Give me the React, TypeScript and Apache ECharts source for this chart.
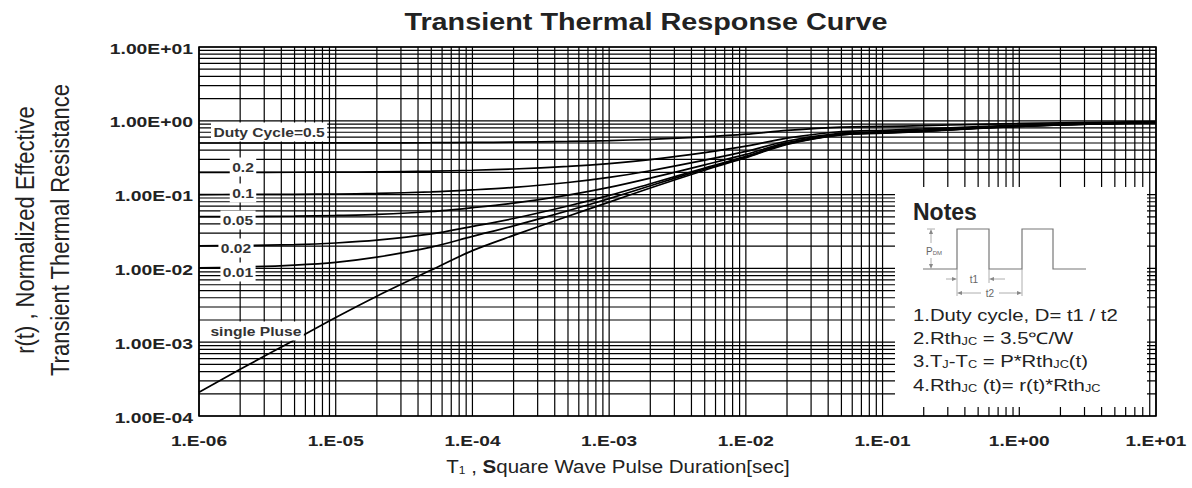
import React, { useEffect, useRef } from 'react';
import * as echarts from 'echarts';

// ---- data ----
const pulseDuration = [1e-6, 2e-6, 5e-6, 1e-5, 2e-5, 5e-5, 1e-4, 2e-4, 5e-4, 1e-3, 2e-3, 5e-3, 1e-2, 2e-2, 5e-2, 0.1, 0.2, 0.5, 1, 2, 5, 10];
const duty05 = [0.5001, 0.5002, 0.5005, 0.5011, 0.5021, 0.5048, 0.5087, 0.514, 0.5255, 0.5395, 0.5615, 0.607, 0.658, 0.74, 0.8225, 0.84, 0.86, 0.895, 0.92, 0.94, 0.96, 0.9725];
const duty02 = [0.2002, 0.2003, 0.2009, 0.2017, 0.2034, 0.2076, 0.2139, 0.2224, 0.2408, 0.2632, 0.2984, 0.3712, 0.4528, 0.584, 0.716, 0.744, 0.776, 0.832, 0.872, 0.904, 0.936, 0.956];
const duty01 = [0.1002, 0.1004, 0.101, 0.1019, 0.1038, 0.1086, 0.1157, 0.1252, 0.1459, 0.1711, 0.2107, 0.2926, 0.3844, 0.532, 0.6805, 0.712, 0.748, 0.811, 0.856, 0.892, 0.928, 0.9505];
const duty005 = [0.0502, 0.0504, 0.051, 0.0521, 0.054, 0.059, 0.0665, 0.0766, 0.0985, 0.125, 0.1669, 0.2533, 0.3502, 0.506, 0.6628, 0.696, 0.734, 0.8005, 0.848, 0.886, 0.924, 0.948];
const duty002 = [0.0202, 0.0204, 0.021, 0.0221, 0.0241, 0.0293, 0.0371, 0.0474, 0.07, 0.0974, 0.1405, 0.2297, 0.3297, 0.4904, 0.6521, 0.6864, 0.7256, 0.7942, 0.8432, 0.8824, 0.9216, 0.9461];
const duty001 = [0.0102, 0.0104, 0.0111, 0.0121, 0.0142, 0.0194, 0.0272, 0.0377, 0.0605, 0.0882, 0.1318, 0.2219, 0.3228, 0.4852, 0.6486, 0.6832, 0.7228, 0.7921, 0.8416, 0.8812, 0.9208, 0.9456];
const singlePulse = [2.1e-4, 4.3e-4, 1.07e-3, 2.16e-3, 4.2e-3, 9.5e-3, 0.0174, 0.028, 0.051, 0.079, 0.123, 0.214, 0.316, 0.48, 0.645, 0.68, 0.72, 0.79, 0.84, 0.88, 0.92, 0.945];

const seriesNames = ['D=0.5', 'D=0.2', 'D=0.1', 'D=0.05', 'D=0.02', 'D=0.01', 'single Pulse'];
const seriesValues = [duty05, duty02, duty01, duty005, duty002, duty001, singlePulse];

const xTickValues = [1e-6, 1e-5, 1e-4, 1e-3, 1e-2, 1e-1, 1, 10];
const xTickLabels = ['1.E-06', '1.E-05', '1.E-04', '1.E-03', '1.E-02', '1.E-01', '1.E+00', '1.E+01'];
const yTickValues = [1e-4, 1e-3, 1e-2, 1e-1, 1, 10];
const yTickLabels = ['1.00E-04', '1.00E-03', '1.00E-02', '1.00E-01', '1.00E+00', '1.00E+01'];

const curveLabelTexts = ['Duty Cycle=0.5', '0.2', '0.1', '0.05', '0.02', '0.01', 'single Pluse'];
const titleText = 'Transient Thermal Response Curve';
const yNameLines = ['r(t) , Normalized Effective', 'Transient Thermal Resistance'];
const noteTitle = 'Notes';
const noteLines = [
  '1.Duty cycle, D= t1 / t2',
  '2.Rth{s|JC} = 3.5℃/W',
  '3.T{s|J}-T{s|C} = P*Rth{s|JC}(t)',
  '4.Rth{s|JC} (t)= r(t)*Rth{s|JC}',
];

// ---- layout (pixels) ----
const GRID = { left: 199, top: 47, right: 36, bottom: 72 };
const W = 1192;
const H = 488;
const curveLabelLayout = [
  { x: 211, y: 132, align: 'left' },
  { x: 243, y: 167, align: 'center' },
  { x: 243, y: 193, align: 'center' },
  { x: 238, y: 220, align: 'center' },
  { x: 236, y: 248, align: 'center' },
  { x: 238, y: 272, align: 'center' },
  { x: 208, y: 331, align: 'left' },
];
const FONT = 'Liberation Sans';
const INK = '#222';

function decadeGrid(minExp: number, maxExp: number): number[] {
  const out: number[] = [];
  for (let e = minExp; e < maxExp; e++) {
    for (let k = 1; k <= 9; k++) out.push(k * Math.pow(10, e));
  }
  out.push(Math.pow(10, maxExp));
  return out;
}

export default function App() {
  const ref = useRef<HTMLDivElement>(null);
  useEffect(() => {
    const chart = echarts.init(ref.current!, null, { renderer: 'svg' });
    chart.setOption({
      animation: false,
      grid: { ...GRID, show: true, borderColor: '#000', borderWidth: 1.6, backgroundColor: '#fff', containLabel: false },
      xAxis: {
        type: 'log', logBase: 10, min: 1e-6, max: 10,
        axisLine: { show: false }, axisTick: { show: false }, axisLabel: { show: false }, splitLine: { show: false },
      },
      yAxis: {
        type: 'log', logBase: 10, min: 1e-4, max: 10,
        axisLine: { show: false }, axisTick: { show: false }, axisLabel: { show: false }, splitLine: { show: false },
      },
      series: seriesValues.map((vals, i) => ({
        type: 'line',
        name: seriesNames[i],
        data: pulseDuration.map((t, j) => [t, vals[j]]),
        symbol: 'none',
        smooth: 0.3,
        z: 3,
        lineStyle: { color: '#000', width: 1.7 },
        emphasis: { disabled: true },
      })),
    });

    const px = (v: number) => chart.convertToPixel({ xAxisIndex: 0 }, v) as number;
    const py = (v: number) => chart.convertToPixel({ yAxisIndex: 0 }, v) as number;
    const x0 = GRID.left;
    const x1 = W - GRID.right;
    const y0 = GRID.top;
    const y1 = H - GRID.bottom;

    const g: any[] = [];
    // log grid lines through the axis scales
    decadeGrid(-6, 1).forEach((v) => {
      const x = px(v);
      g.push({ type: 'line', z: 1, silent: true, shape: { x1: x, y1: y0, x2: x, y2: y1 }, style: { stroke: '#000', lineWidth: 1.2 } });
    });
    decadeGrid(-4, 1).forEach((v) => {
      const y = py(v);
      g.push({ type: 'line', z: 1, silent: true, shape: { x1: x0, y1: y, x2: x1, y2: y }, style: { stroke: '#000', lineWidth: 1.2 } });
    });

    g.push({
      type: 'text', x: 646, y: 22, scaleX: 1.2, z: 60, silent: true,
      style: { text: titleText, fontSize: 24, fontWeight: 'bold', fontFamily: FONT, fill: INK, align: 'center', verticalAlign: 'middle' },
    });
    yTickValues.forEach((v, i) => {
      g.push({
        type: 'text', x: GRID.left - 6, y: py(v) + 2, scaleX: 1.38, z: 60, silent: true,
        style: { text: yTickLabels[i], fontSize: 14, fontWeight: 'bold', fontFamily: FONT, fill: INK, align: 'right', verticalAlign: 'middle' },
      });
    });
    xTickValues.forEach((v, i) => {
      g.push({
        type: 'text', x: px(v), y: 441, scaleX: 1.36, z: 60, silent: true,
        style: { text: xTickLabels[i], fontSize: 14, fontWeight: 'bold', fontFamily: FONT, fill: INK, align: 'center', verticalAlign: 'middle' },
      });
    });
    g.push({
      type: 'text', x: 618, y: 466, scaleX: 1.08, z: 60, silent: true,
      style: {
        text: 'T{s|1} , {b|S}quare Wave Pulse Duration[sec]',
        fontSize: 19, fontFamily: FONT, fill: INK, align: 'center', verticalAlign: 'middle',
        rich: {
          s: { fontSize: 11, fontFamily: FONT, fill: INK, verticalAlign: 'bottom' },
          b: { fontSize: 19, fontWeight: 'bold', fontFamily: FONT, fill: INK },
        },
      },
    });
    [25, 60].forEach((x, i) => {
      g.push({
        type: 'text', x, y: 230, rotation: Math.PI / 2, scaleY: 1.15, z: 60, silent: true,
        style: { text: yNameLines[i], fontSize: 22, fontFamily: FONT, fill: INK, align: 'center', verticalAlign: 'middle' },
      });
    });
    curveLabelTexts.forEach((t, i) => {
      const L = curveLabelLayout[i];
      g.push({
        type: 'text', x: L.x, y: L.y, scaleX: 1.2, z: 60, silent: true,
        style: {
          text: t, fontSize: 13, fontWeight: 'bold', fontFamily: FONT, fill: '#333', align: L.align, verticalAlign: 'middle',
          backgroundColor: '#fff', padding: [3, 2, 3, 2],
        },
      });
    });
    g.push({ type: 'rect', z: 55, silent: true, shape: { x: 895, y: 187, width: 252, height: 220 }, style: { fill: '#fff' } });
    g.push({
      type: 'text', x: 913, y: 212, z: 60, silent: true,
      style: { text: noteTitle, fontSize: 23, fontWeight: 'bold', fontFamily: FONT, fill: INK, align: 'left', verticalAlign: 'middle' },
    });
    [315, 338, 361, 385].forEach((y, i) => {
      g.push({
        type: 'text', x: 913, y, scaleX: 1.27, z: 60, silent: true,
        style: {
          text: noteLines[i], fontSize: 16, fontFamily: FONT, fill: INK, align: 'left', verticalAlign: 'middle',
          rich: { s: { fontSize: 10, fontFamily: FONT, fill: INK, verticalAlign: 'bottom' } },
        },
      });
    });
    const gray = '#777';
    g.push({
      type: 'polyline', z: 60, silent: true,
      shape: { points: [[923, 269], [957, 269], [957, 229], [989, 229], [989, 269], [1022, 269], [1022, 229], [1053, 229], [1053, 269], [1086, 269]] },
      style: { stroke: gray, lineWidth: 1.2, fill: null },
    });
    const thin = (xa: number, ya: number, xb: number, yb: number) =>
      g.push({ type: 'line', z: 60, silent: true, shape: { x1: xa, y1: ya, x2: xb, y2: yb }, style: { stroke: '#999', lineWidth: 0.8 } });
    const head = (pts: number[][]) => g.push({ type: 'polygon', z: 60, silent: true, shape: { points: pts }, style: { fill: '#888' } });
    thin(931, 233, 931, 243); thin(931, 258, 931, 266);
    head([[929, 234], [933, 234], [931, 229]]);
    head([[929, 264], [933, 264], [931, 269]]);
    thin(927, 229, 935, 229);
    g.push({
      type: 'text', x: 926, y: 251, z: 60, silent: true,
      style: {
        text: 'P{s|DM}', fontSize: 10, fontFamily: FONT, fill: '#666', align: 'left', verticalAlign: 'middle',
        rich: { s: { fontSize: 6, fontFamily: FONT, fill: '#666', verticalAlign: 'bottom' } },
      },
    });
    thin(957, 269, 957, 296); thin(989, 269, 989, 283); thin(1022, 269, 1022, 296);
    thin(946, 279, 953, 279); head([[952, 277], [952, 281], [957, 279]]);
    thin(993, 279, 1005, 279); head([[994, 277], [994, 281], [989, 279]]);
    g.push({ type: 'text', x: 974, y: 279, z: 60, silent: true, style: { text: 't1', fontSize: 10, fontFamily: FONT, fill: '#666', align: 'center', verticalAlign: 'middle' } });
    thin(961, 293, 981, 293); head([[962, 291], [962, 295], [957, 293]]);
    thin(999, 293, 1018, 293); head([[1017, 291], [1017, 295], [1022, 293]]);
    g.push({ type: 'text', x: 990, y: 293, z: 60, silent: true, style: { text: 't2', fontSize: 10, fontFamily: FONT, fill: '#666', align: 'center', verticalAlign: 'middle' } });

    chart.setOption({ graphic: g });
    return () => chart.dispose();
  }, []);
  return <div ref={ref} style={{ position: 'absolute', left: 0, top: 0, width: W, height: H }} />;
}
